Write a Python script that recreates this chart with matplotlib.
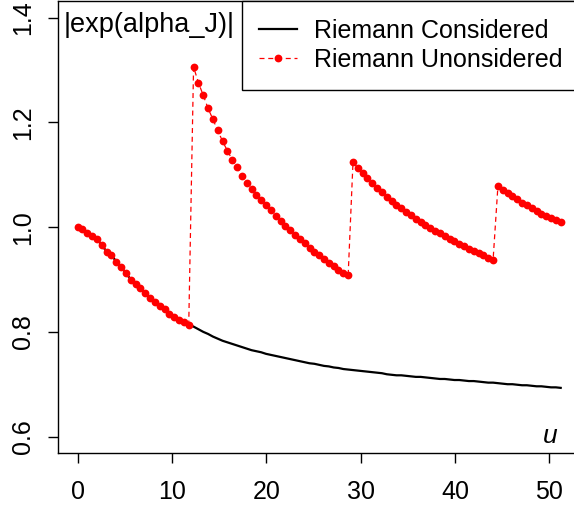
import numpy as np
import matplotlib
matplotlib.use("Agg")
import matplotlib.pyplot as plt

plt.rcParams['font.family'] = ['Liberation Sans', 'DejaVu Sans']

# sampling grid of u (101 points, 0 .. 51.2)
u = np.linspace(0, 51.2, 101)

# common part (both curves coincide before the first jump)
first_part = [1.000, 0.996, 0.989, 0.983, 0.977, 0.966, 0.953, 0.947, 0.934, 0.924,
              0.912, 0.900, 0.892, 0.883, 0.874, 0.865, 0.857, 0.849, 0.843, 0.835,
              0.829, 0.822, 0.818, 0.814]

considered_rest = [0.810, 0.805, 0.800, 0.796, 0.791, 0.787, 0.783, 0.780, 0.777, 0.774,
                   0.771, 0.768, 0.765, 0.763, 0.761, 0.758, 0.756, 0.754, 0.752, 0.750,
                   0.748, 0.746, 0.744, 0.742, 0.740, 0.739, 0.737, 0.735, 0.734, 0.732,
                   0.731, 0.729, 0.728, 0.727, 0.726, 0.725, 0.724, 0.723, 0.722, 0.721,
                   0.719, 0.718, 0.717, 0.717, 0.716, 0.715, 0.714, 0.714, 0.713, 0.712,
                   0.711, 0.710, 0.710, 0.709, 0.708, 0.708, 0.707, 0.706, 0.706, 0.705,
                   0.704, 0.703, 0.703, 0.702, 0.701, 0.700, 0.700, 0.699, 0.698, 0.698,
                   0.697, 0.696, 0.696, 0.695, 0.694, 0.694, 0.693]

unconsidered_rest = [
    # after 1st jump
    1.306, 1.276, 1.252, 1.227, 1.206, 1.185, 1.164, 1.146, 1.129, 1.114,
    1.098, 1.084, 1.073, 1.062, 1.052, 1.042, 1.032, 1.022, 1.012, 1.003,
    0.994, 0.985, 0.977, 0.969, 0.961, 0.953, 0.946, 0.939, 0.932, 0.925,
    0.919, 0.913, 0.908,
    # after 2nd jump
    1.124, 1.113, 1.103, 1.093, 1.084, 1.075, 1.067, 1.058, 1.050, 1.043,
    1.036, 1.029, 1.023, 1.016, 1.010, 1.004, 0.998, 0.993, 0.988, 0.983,
    0.978, 0.973, 0.968, 0.964, 0.959, 0.955, 0.951, 0.946, 0.942, 0.937,
    # after 3rd jump
    1.078, 1.071, 1.065, 1.059, 1.053, 1.047, 1.042, 1.036, 1.031, 1.026,
    1.021, 1.017, 1.013, 1.009]

considered = first_part + considered_rest
unconsidered = first_part + unconsidered_rest

x_ticks = [0, 10, 20, 30, 40, 50]
y_ticks = [0.6, 0.8, 1.0, 1.2, 1.4]

fs = 18

fig = plt.figure(figsize=(5.74, 5.07), dpi=100)
ax = fig.add_axes([0.1016, 0.1059, 0.9089, 0.8921])

ax.plot(u, considered, color='black', lw=1.6, label='Riemann Considered')
ax.plot(u, unconsidered, color='red', lw=0.9, ls=(0, (4, 3)), marker='o',
        markersize=5.6, markeredgewidth=0, label='Riemann Unonsidered')

ax.set_xlim(-2.048, 53.248)
ax.set_ylim(0.568, 1.432)
ax.set_xticks(x_ticks)
ax.set_yticks(y_ticks)
ax.set_xticklabels([str(t) for t in x_ticks], fontsize=fs)
ax.set_yticklabels(['%.1f' % t for t in y_ticks], fontsize=fs, rotation=90, va='center')
ax.tick_params(axis='x', length=7.5, width=1.0, pad=12)
ax.tick_params(axis='y', length=7.5, width=1.0, pad=9)
for s in ax.spines.values():
    s.set_linewidth(1.0)

ax.text(0.01, 0.947, '|exp(alpha_J)|', transform=ax.transAxes, fontsize=19.5,
        ha='left', va='center')
ax.text(0.957, 0.012, 'u', transform=ax.transAxes, fontsize=19, style='italic',
        ha='right', va='bottom')

leg = ax.legend(loc='upper right', bbox_to_anchor=(1, 1), borderaxespad=0,
                fontsize=fs, fancybox=False, edgecolor='black', framealpha=1,
                handlelength=1.5, handletextpad=0.7, labelspacing=0.22,
                borderpad=0.7)
leg.get_frame().set_linewidth(1.0)

fig.savefig('out.png', dpi=100)
